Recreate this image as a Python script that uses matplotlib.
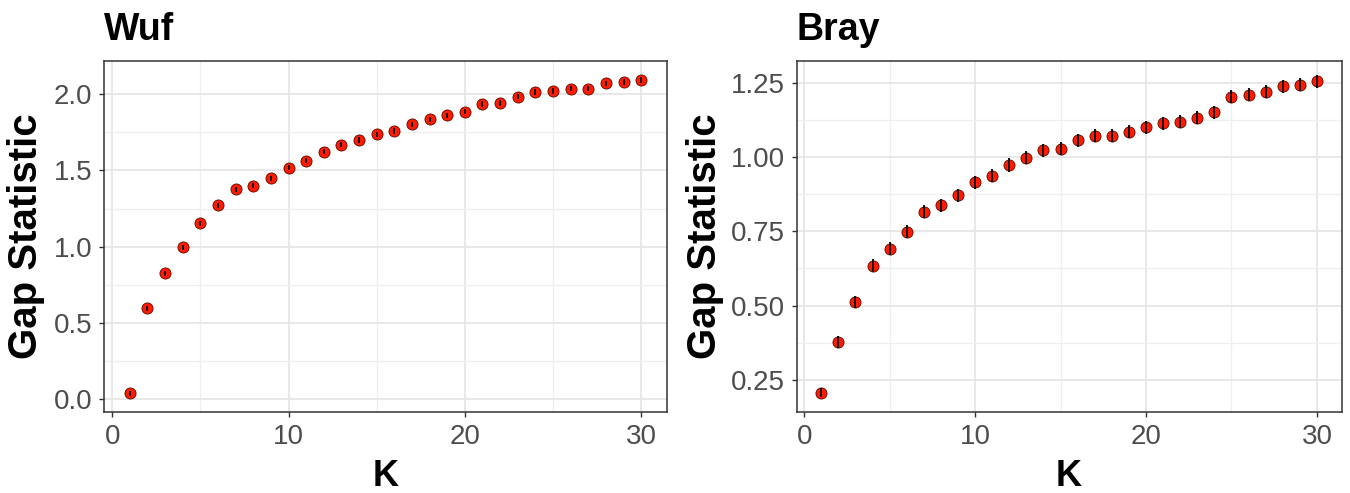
import matplotlib
matplotlib.use("Agg")
import matplotlib.pyplot as plt
from matplotlib.ticker import MultipleLocator

plt.rcParams['font.family'] = ['Liberation Sans', 'DejaVu Sans']

k = list(range(1, 31))

# gap statistic
wuf_gap = [0.037, 0.595, 0.825, 0.995, 1.153, 1.271, 1.376, 1.400, 1.448, 1.518,
           1.564, 1.623, 1.669, 1.699, 1.737, 1.758, 1.802, 1.835, 1.862, 1.885,
           1.936, 1.942, 1.984, 2.016, 2.021, 2.036, 2.036, 2.071, 2.080, 2.093]
wuf_err = [0.018, 0.018, 0.018, 0.018, 0.018, 0.018, 0.018, 0.018, 0.018, 0.018,
           0.018, 0.018, 0.018, 0.018, 0.018, 0.018, 0.018, 0.018, 0.018, 0.018,
           0.018, 0.018, 0.018, 0.018, 0.018, 0.018, 0.018, 0.018, 0.018, 0.018]

bray_gap = [0.207, 0.379, 0.511, 0.634, 0.691, 0.748, 0.816, 0.838, 0.872, 0.915,
            0.937, 0.973, 0.998, 1.023, 1.028, 1.056, 1.071, 1.071, 1.085, 1.100,
            1.113, 1.118, 1.132, 1.150, 1.203, 1.210, 1.219, 1.238, 1.243, 1.255]
bray_err = [0.015, 0.020, 0.020, 0.022, 0.022, 0.022, 0.022, 0.022, 0.022, 0.022,
            0.022, 0.022, 0.022, 0.022, 0.022, 0.022, 0.022, 0.022, 0.022, 0.022,
            0.022, 0.022, 0.022, 0.022, 0.022, 0.022, 0.022, 0.022, 0.022, 0.022]

W, H = 1350, 493
fig = plt.figure(figsize=(W / 100, H / 100), dpi=100)


def px_axes(left, top, right, bottom):
    return fig.add_axes([left / W, 1 - bottom / H, (right - left) / W, (bottom - top) / H])


def style(ax, title, ylim, ymajor, yfmt, ylab_x):
    ax.set_xlim(1 - 1.45, 30 + 1.45)
    ax.set_ylim(*ylim)
    ax.xaxis.set_major_locator(MultipleLocator(10))
    ax.xaxis.set_minor_locator(MultipleLocator(5))
    ax.yaxis.set_major_locator(MultipleLocator(ymajor))
    ax.yaxis.set_minor_locator(MultipleLocator(ymajor / 2))
    ax.yaxis.set_major_formatter(yfmt)
    ax.grid(which='major', color='#E6E6E6', lw=1.3)
    ax.grid(which='minor', color='#EFEFEF', lw=0.9)
    ax.set_axisbelow(True)
    for s in ax.spines.values():
        s.set_color('#333333')
        s.set_linewidth(1.1)
    ax.tick_params(which='major', length=3.5, width=1, color='#333333',
                   labelsize=20, labelcolor='#4D4D4D', pad=5)
    ax.tick_params(which='minor', length=0)
    ax.set_title(title, loc='left', fontsize=27, fontweight='bold', pad=15)
    ax.set_xlabel('K', fontsize=26, fontweight='bold')
    ax.set_ylabel('Gap Statistic', fontsize=29, fontweight='bold')
    ax.xaxis.set_label_coords(0.5, -0.135)
    ax.yaxis.set_label_coords(ylab_x, 0.5)


ax1 = px_axes(104.3, 61, 666.7, 411.7)
ax1.plot(k, wuf_gap, 'o', color='#FF1A00', ms=8, mec='#5a0a00', mew=0.6, zorder=3)
ax1.errorbar(k, wuf_gap, yerr=wuf_err, fmt='none', ecolor='black', elinewidth=1.3, capsize=0, zorder=4)
style(ax1, 'Wuf', (-0.083, 2.218), 0.5, '{x:.1f}', -0.105)

ax2 = px_axes(796.5, 61, 1341.7, 411.7)
ax2.plot(k, bray_gap, 'o', color='#FF1A00', ms=8, mec='#5a0a00', mew=0.6, zorder=3)
ax2.errorbar(k, bray_gap, yerr=bray_err, fmt='none', ecolor='black', elinewidth=1.3, capsize=0, zorder=4)
style(ax2, 'Bray', (0.143, 1.323), 0.25, '{x:.2f}', -0.133)

fig.savefig('out.png', dpi=100, facecolor='white')
